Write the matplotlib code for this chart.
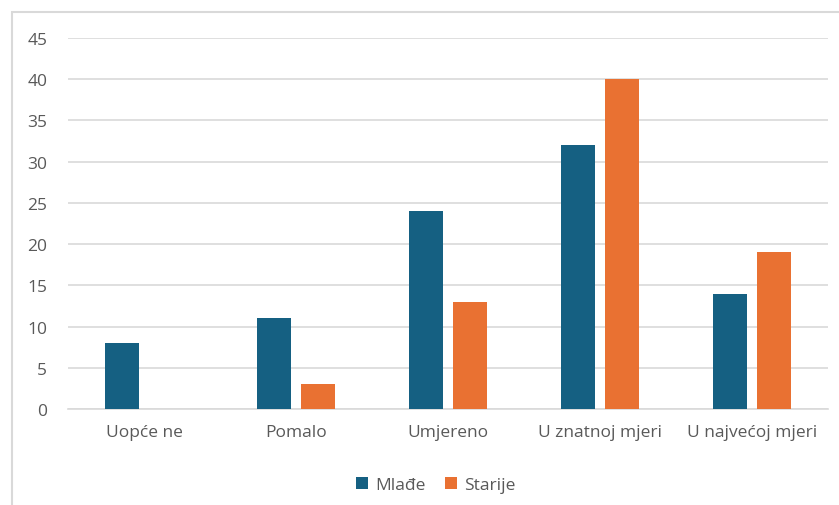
import matplotlib.pyplot as plt
import numpy as np
from matplotlib.patches import Rectangle

categories = ["Uopće ne", "Pomalo", "Umjereno", "U znatnoj mjeri", "U najvećoj mjeri"]
mlade = [8, 11, 24, 32, 14]
starije = [0, 3, 13, 40, 19]

plt.rcParams['font.family'] = ['Open Sans', 'DejaVu Sans']
text_color = "#595959"

fig = plt.figure(figsize=(8.39, 5.06), dpi=100)
# light frame around the chart area (runs off the right and bottom edges)
fig.patches.append(Rectangle((12 / 839, -0.05), 1.1, (506 - 13) / 506 + 0.05,
                             transform=fig.transFigure, fill=False,
                             edgecolor="#D9D9D9", linewidth=1.5))

ax = fig.add_axes([68 / 839, (506 - 410) / 506, (828 - 68) / 839, (410 - 39) / 506])

x = np.arange(len(categories))
width = 0.224
offset = 0.145
ax.bar(x - offset, mlade, width, color="#156082", label="Mlađe", zorder=3)
ax.bar(x + offset, starije, width, color="#E97132", label="Starije", zorder=3)

ax.set_xlim(-0.5, len(categories) - 0.5)
ax.set_ylim(0, 45)
ax.set_yticks(range(0, 46, 5))
ax.set_xticks(x)
ax.set_xticklabels(categories)
ax.yaxis.grid(True, color="#D9D9D9", linewidth=1.2, zorder=0)
ax.set_axisbelow(True)
for side in ["top", "right", "left"]:
    ax.spines[side].set_visible(False)
ax.spines["bottom"].set_color("#D9D9D9")
ax.spines["bottom"].set_linewidth(1.2)
ax.tick_params(axis="both", length=0, labelsize=12.5, colors=text_color)
ax.tick_params(axis="y", pad=15)
ax.tick_params(axis="x", pad=11)

ax.legend(loc="center", bbox_to_anchor=(0.484, -0.205), ncol=2, frameon=False,
          handlelength=0.7, handleheight=0.7, handletextpad=0.4, columnspacing=1.1,
          fontsize=12.5, labelcolor=text_color)

fig.savefig("out.png", dpi=100)
